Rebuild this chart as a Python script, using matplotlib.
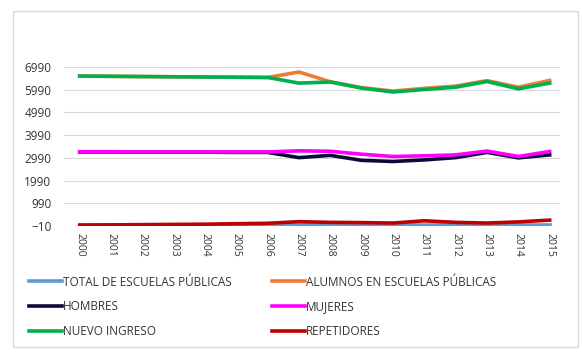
import matplotlib.pyplot as plt
from matplotlib.patches import Rectangle

years = list(range(2000, 2016))

# values (approximate)
total_escuelas = [20, 20, 20, 20, 20, 20, 20, 20, 20, 20, 20, 20, 20, 20, 20, 20]
alumnos = [6590, 6580, 6570, 6560, 6550, 6540, 6530, 6770, 6340, 6080, 5930, 6050, 6150, 6390, 6100, 6400]
hombres = [3250, 3250, 3240, 3240, 3240, 3230, 3230, 3000, 3100, 2880, 2830, 2900, 3000, 3230, 2990, 3120]
mujeres = [3260, 3260, 3250, 3250, 3250, 3250, 3250, 3300, 3280, 3150, 3050, 3080, 3120, 3290, 3050, 3270]
nuevo_ingreso = [6590, 6580, 6570, 6560, 6550, 6540, 6530, 6280, 6330, 6060, 5890, 6000, 6100, 6350, 6030, 6280]
repetidores = [30, 40, 50, 60, 70, 90, 110, 180, 150, 140, 120, 220, 150, 120, 170, 250]

y_ticks = list(range(-10, 7000, 1000))

plt.rcParams['font.family'] = ['Open Sans', 'DejaVu Sans']

fig = plt.figure(figsize=(5.82, 3.52), dpi=100)
ax = fig.add_axes([64 / 582, (352 - 226) / 352, (560 - 64) / 582, (226 - 67) / 352])

# outer chart border
fig.patches.append(Rectangle((13 / 582, 5 / 352), 565 / 582, 336 / 352, transform=fig.transFigure,
                             fill=False, edgecolor='#d9d9d9', linewidth=1))

lw = 2.6
l1, = ax.plot(years, total_escuelas, color='#5B9BD5', lw=lw, label='TOTAL DE ESCUELAS PÚBLICAS')
l2, = ax.plot(years, alumnos, color='#ED7D31', lw=lw, label='ALUMNOS EN ESCUELAS PÚBLICAS')
l3, = ax.plot(years, hombres, color='#0C0C3C', lw=lw, label='HOMBRES')
l4, = ax.plot(years, mujeres, color='#FF00FF', lw=lw, label='MUJERES')
l5, = ax.plot(years, nuevo_ingreso, color='#00B050', lw=lw, label='NUEVO INGRESO')
l6, = ax.plot(years, repetidores, color='#C00000', lw=lw, label='REPETIDORES')

ax.set_xlim(1999.5, 2015.33)
ax.set_ylim(-10, 6990)
ax.set_yticks(y_ticks)
ax.set_xticks(years)
ax.set_xticklabels([str(y) for y in years], rotation=-90, fontsize=7.5, color='#333333')
ax.tick_params(axis='y', labelsize=8.5, labelcolor='#333333', length=0, pad=9)
ax.tick_params(axis='x', length=0, pad=5)
ax.grid(axis='y', color='#d9d9d9', lw=0.8)
ax.set_axisbelow(True)
for s in ax.spines.values():
    s.set_visible(False)

handles = [l1, l3, l5, l2, l4, l6]
fig.legend(handles, [h.get_label() for h in handles], ncol=2, loc='upper left',
           bbox_to_anchor=(18 / 582, 1 - 265 / 352), frameon=False, fontsize=8.5,
           handlelength=2.8, handletextpad=0.1, columnspacing=3.4, labelspacing=1.0,
           labelcolor='#333333')

fig.savefig('out.png', dpi=100)
